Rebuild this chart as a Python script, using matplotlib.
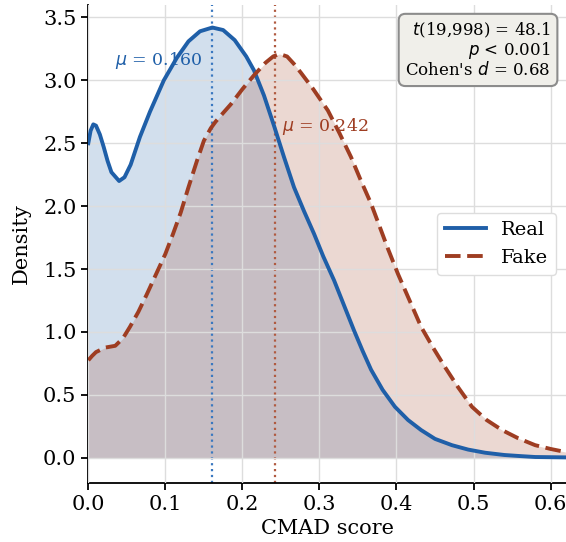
import matplotlib
matplotlib.use("Agg")
import matplotlib.pyplot as plt

## Data
real_x = [0.000, 0.003, 0.0065, 0.010, 0.015, 0.020, 0.025, 0.030, 0.040, 0.047,
          0.055, 0.067, 0.080, 0.098, 0.115, 0.130, 0.145, 0.161, 0.175, 0.190,
          0.205, 0.215, 0.228, 0.241, 0.254, 0.267, 0.280, 0.293, 0.305, 0.319,
          0.332, 0.345, 0.356, 0.367, 0.382, 0.398, 0.415, 0.432, 0.450, 0.472,
          0.493, 0.515, 0.540, 0.559, 0.580, 0.620]
real_y = [2.50, 2.60, 2.65, 2.64, 2.57, 2.47, 2.36, 2.27, 2.20, 2.23,
          2.33, 2.55, 2.75, 3.00, 3.18, 3.31, 3.39, 3.42, 3.40, 3.32,
          3.19, 3.08, 2.88, 2.64, 2.39, 2.15, 1.96, 1.78, 1.60, 1.41,
          1.21, 1.01, 0.85, 0.70, 0.54, 0.405, 0.30, 0.22, 0.15, 0.10,
          0.065, 0.04, 0.022, 0.014, 0.006, 0.003]

fake_x = [0.000, 0.005, 0.010, 0.022, 0.035, 0.045, 0.054, 0.065, 0.076, 0.088,
          0.100, 0.110, 0.120, 0.130, 0.141, 0.150, 0.159, 0.165, 0.172, 0.185,
          0.200, 0.215, 0.230, 0.240, 0.248, 0.258, 0.267, 0.276, 0.292, 0.311,
          0.326, 0.341, 0.354, 0.367, 0.378, 0.389, 0.402, 0.417, 0.432, 0.448,
          0.463, 0.480, 0.498, 0.517, 0.537, 0.558, 0.580, 0.600, 0.620]
fake_y = [0.775, 0.81, 0.84, 0.876, 0.89, 0.95, 1.04, 1.16, 1.30, 1.46,
          1.62, 1.78, 1.95, 2.15, 2.36, 2.52, 2.62, 2.67, 2.72, 2.81,
          2.93, 3.04, 3.14, 3.19, 3.21, 3.19, 3.13, 3.06, 2.93, 2.76,
          2.58, 2.39, 2.20, 2.02, 1.84, 1.66, 1.46, 1.25, 1.04, 0.87,
          0.72, 0.56, 0.405, 0.30, 0.22, 0.155, 0.10, 0.07, 0.045]

mu_real = 0.160
mu_fake = 0.242
stats_text = "$t$(19,998) = 48.1\n$p$ < 0.001\nCohen's $d$ = 0.68"

blue = "#1f5fa8"
red = "#9e3d22"

## Plot
plt.rcParams['font.family'] = 'DejaVu Serif'
plt.rcParams['mathtext.fontset'] = 'dejavusans'

fig, ax = plt.subplots(figsize=(5.66, 5.42), dpi=100)
fig.subplots_adjust(left=0.156, right=1.0, bottom=0.109, top=0.991)

ax.fill_between(real_x, 0, real_y, color=blue, alpha=0.2, lw=0, zorder=0.5)
ax.fill_between(fake_x, 0, fake_y, color=red, alpha=0.2, lw=0, zorder=0.6)
ax.plot(real_x, real_y, color=blue, lw=2.8, label='Real', zorder=3)
ax.plot(fake_x, fake_y, color=red, lw=2.8, ls=(0, (4, 1.7)), label='Fake', zorder=3)

ax.axvline(mu_real, color="#3a78c0", ls=':', lw=1.6, zorder=2)
ax.axvline(mu_fake, color="#b05a40", ls=':', lw=1.6, zorder=2)
ax.text(mu_real - 0.012, 3.16, r'$\mu$ = %.3f' % mu_real, color=blue,
        fontsize=12.5, ha='right', va='center')
ax.text(mu_fake + 0.009, 2.63, r'$\mu$ = %.3f' % mu_fake, color=red,
        fontsize=12.5, ha='left', va='center')

ax.text(0.968, 0.966, stats_text, transform=ax.transAxes, fontsize=12,
        ha='right', va='top', multialignment='right', linespacing=1.0,
        bbox=dict(boxstyle='round,pad=0.4', facecolor='#f0efea',
                  edgecolor='#8c8c8c', lw=1.5))

ax.set_xlim(0, 0.62)
ax.set_ylim(-0.2, 3.6)
ax.set_xticks([0.0, 0.1, 0.2, 0.3, 0.4, 0.5, 0.6])
ax.set_yticks([0.0, 0.5, 1.0, 1.5, 2.0, 2.5, 3.0, 3.5])
ax.grid(True, color='#dddddd', lw=1.0)
ax.set_axisbelow(False)
ax.spines['top'].set_visible(False)
ax.spines['right'].set_visible(False)
ax.spines['left'].set_linewidth(1.3)
ax.spines['bottom'].set_linewidth(1.3)
ax.tick_params(labelsize=15, width=1.3, length=5)
ax.set_xlabel('CMAD score', fontsize=15)
ax.set_ylabel('Density', fontsize=15, labelpad=9)
ax.legend(loc='center right', fontsize=14, handlelength=2.1,
          edgecolor='#dddddd', framealpha=1.0)

fig.savefig('out.png', dpi=100)
